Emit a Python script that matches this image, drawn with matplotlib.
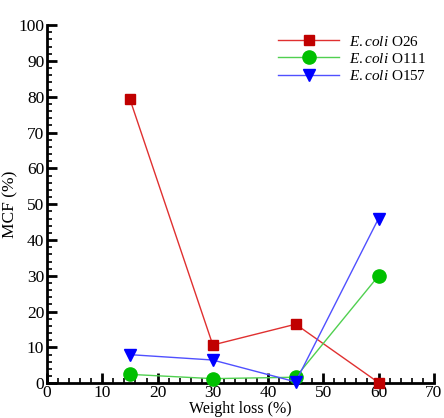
import matplotlib
import matplotlib.pyplot as plt
from matplotlib.ticker import MultipleLocator

matplotlib.use("Agg")

plt.rcParams["font.family"] = ["Liberation Serif", "DejaVu Serif"]
plt.rcParams["mathtext.fontset"] = "custom"
plt.rcParams["mathtext.it"] = "Liberation Serif:italic"
plt.rcParams["mathtext.rm"] = "Liberation Serif"

# data
weight_loss = [15, 30, 45, 60]
o26 = [79.3, 10.7, 16.5, 0.2]
o111 = [2.5, 1.3, 1.7, 30.0]
o157 = [8.0, 6.5, 0.4, 46.0]

series = [
    (o26, r"$\it{E.coli}$ O26", "#c00000", "#e03030", "s", 6.5),
    (o111, r"$\it{E.coli}$ O111", "#00c000", "#50d050", "o", 9.5),
    (o157, r"$\it{E.coli}$ O157", "#0000ff", "#5050ff", "v", 8.5),
]

fig = plt.figure(figsize=(4.44, 4.18), dpi=100)
ax = fig.add_axes([0.106, 0.083, 0.871, 0.857])

for vals, label, mcol, lcol, marker, ms in series:
    ax.plot(weight_loss, vals, color=lcol, linewidth=1.0, marker=marker,
            markersize=ms, markerfacecolor=mcol, markeredgecolor=mcol,
            label=label, clip_on=False, zorder=3)

ax.set_xlim(0, 70)
ax.set_ylim(0, 100)
ax.xaxis.set_major_locator(MultipleLocator(10))
ax.xaxis.set_minor_locator(MultipleLocator(2))
ax.yaxis.set_major_locator(MultipleLocator(10))
ax.yaxis.set_minor_locator(MultipleLocator(2))

for side in ("top", "right"):
    ax.spines[side].set_visible(False)
for side in ("left", "bottom"):
    ax.spines[side].set_linewidth(2.0)

ax.tick_params(which="major", direction="in", length=7, width=2.0,
               labelsize=12.5, pad=2)
ax.tick_params(axis="x", which="major", pad=1)
ax.tick_params(which="minor", direction="in", length=3.5, width=1.2)

ax.set_xlabel("Weight loss (%)", fontsize=11.5, va="bottom")
ax.set_ylabel("MCF (%)", fontsize=12.5)
ax.xaxis.set_label_coords(0.5, -0.095)
ax.yaxis.set_label_coords(-0.075, 0.5)

ax.legend(loc="upper left", bbox_to_anchor=(0.582, 0.99), frameon=False,
          fontsize=11, handlelength=4.0, handletextpad=0.6,
          labelspacing=0.2, borderaxespad=0.0)

fig.savefig("out.png", dpi=100)
